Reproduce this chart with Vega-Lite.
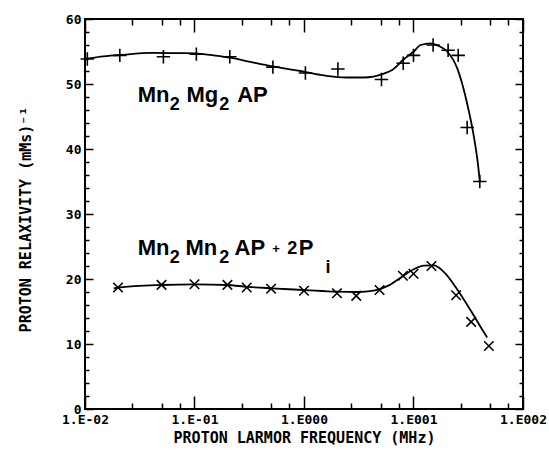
{
  "$schema": "https://vega.github.io/schema/vega-lite/v6.json",
  "width": 438,
  "height": 390,
  "autosize": {"type": "none"},
  "padding": {"left": 85, "top": 19, "right": 26, "bottom": 41},
  "background": "white",
  "config": {
    "view": {"stroke": "black", "strokeWidth": 2},
    "axis": {
      "grid": false,
      "domain": false,
      "ticks": true,
      "tickColor": "black",
      "tickWidth": 1.5,
      "labelFont": "DejaVu Sans Mono",
      "labelFontWeight": "bold",
      "labelFontSize": 13,
      "labelColor": "black",
      "labelOverlap": false,
      "labelFlush": false,
      "titleFont": "DejaVu Sans Mono",
      "titleFontWeight": "bold",
      "titleFontSize": 15,
      "titleColor": "black"
    }
  },
  "datasets": {
    "points": [
      {"f": 0.0105, "r": 53.85, "s": "Mn2Mg2AP"},
      {"f": 0.0208, "r": 54.4, "s": "Mn2Mg2AP"},
      {"f": 0.052, "r": 54.2, "s": "Mn2Mg2AP"},
      {"f": 0.104, "r": 54.6, "s": "Mn2Mg2AP"},
      {"f": 0.21, "r": 54.2, "s": "Mn2Mg2AP"},
      {"f": 0.52, "r": 52.6, "s": "Mn2Mg2AP"},
      {"f": 1.03, "r": 51.7, "s": "Mn2Mg2AP"},
      {"f": 2.04, "r": 52.3, "s": "Mn2Mg2AP"},
      {"f": 5.1, "r": 50.7, "s": "Mn2Mg2AP"},
      {"f": 8.05, "r": 53.2, "s": "Mn2Mg2AP"},
      {"f": 10.0, "r": 54.4, "s": "Mn2Mg2AP"},
      {"f": 15.1, "r": 56.0, "s": "Mn2Mg2AP"},
      {"f": 20.7, "r": 55.2, "s": "Mn2Mg2AP"},
      {"f": 25.6, "r": 54.4, "s": "Mn2Mg2AP"},
      {"f": 30.9, "r": 43.3, "s": "Mn2Mg2AP"},
      {"f": 40.3, "r": 35.0, "s": "Mn2Mg2AP"},
      {"f": 0.02, "r": 18.7, "s": "Mn2Mn2AP+2Pi"},
      {"f": 0.05, "r": 19.1, "s": "Mn2Mn2AP+2Pi"},
      {"f": 0.1, "r": 19.2, "s": "Mn2Mn2AP+2Pi"},
      {"f": 0.2, "r": 19.1, "s": "Mn2Mn2AP+2Pi"},
      {"f": 0.3, "r": 18.7, "s": "Mn2Mn2AP+2Pi"},
      {"f": 0.5, "r": 18.5, "s": "Mn2Mn2AP+2Pi"},
      {"f": 1.0, "r": 18.2, "s": "Mn2Mn2AP+2Pi"},
      {"f": 2.0, "r": 17.8, "s": "Mn2Mn2AP+2Pi"},
      {"f": 3.0, "r": 17.4, "s": "Mn2Mn2AP+2Pi"},
      {"f": 4.9, "r": 18.3, "s": "Mn2Mn2AP+2Pi"},
      {"f": 8.0, "r": 20.5, "s": "Mn2Mn2AP+2Pi"},
      {"f": 10.0, "r": 20.8, "s": "Mn2Mn2AP+2Pi"},
      {"f": 14.6, "r": 22.0, "s": "Mn2Mn2AP+2Pi"},
      {"f": 24.5, "r": 17.5, "s": "Mn2Mn2AP+2Pi"},
      {"f": 33.6, "r": 13.4, "s": "Mn2Mn2AP+2Pi"},
      {"f": 48.8, "r": 9.7, "s": "Mn2Mn2AP+2Pi"}
    ],
    "curves": [
      {"f": 0.0103, "r": 53.85, "s": "Mn2Mg2AP"},
      {"f": 0.0139, "r": 54.2, "s": "Mn2Mg2AP"},
      {"f": 0.0208, "r": 54.46, "s": "Mn2Mg2AP"},
      {"f": 0.0411, "r": 54.8, "s": "Mn2Mg2AP"},
      {"f": 0.0745, "r": 54.75, "s": "Mn2Mg2AP"},
      {"f": 0.102, "r": 54.7, "s": "Mn2Mg2AP"},
      {"f": 0.15, "r": 54.4, "s": "Mn2Mg2AP"},
      {"f": 0.213, "r": 54.05, "s": "Mn2Mg2AP"},
      {"f": 0.324, "r": 53.4, "s": "Mn2Mg2AP"},
      {"f": 0.519, "r": 52.7, "s": "Mn2Mg2AP"},
      {"f": 0.929, "r": 52.0, "s": "Mn2Mg2AP"},
      {"f": 1.416, "r": 51.4, "s": "Mn2Mg2AP"},
      {"f": 2.48, "r": 51.0, "s": "Mn2Mg2AP"},
      {"f": 3.52, "r": 51.0, "s": "Mn2Mg2AP"},
      {"f": 5.35, "r": 51.6, "s": "Mn2Mg2AP"},
      {"f": 6.38, "r": 52.15, "s": "Mn2Mg2AP"},
      {"f": 8.15, "r": 53.8, "s": "Mn2Mg2AP"},
      {"f": 10.06, "r": 55.0, "s": "Mn2Mg2AP"},
      {"f": 11.6, "r": 56.0, "s": "Mn2Mg2AP"},
      {"f": 14.3, "r": 56.25, "s": "Mn2Mg2AP"},
      {"f": 17.0, "r": 55.85, "s": "Mn2Mg2AP"},
      {"f": 20.3, "r": 55.0, "s": "Mn2Mg2AP"},
      {"f": 25.1, "r": 52.4, "s": "Mn2Mg2AP"},
      {"f": 30.9, "r": 47.0, "s": "Mn2Mg2AP"},
      {"f": 35.6, "r": 41.9, "s": "Mn2Mg2AP"},
      {"f": 38.7, "r": 37.8, "s": "Mn2Mg2AP"},
      {"f": 40.3, "r": 35.1, "s": "Mn2Mg2AP"},
      {"f": 0.0183, "r": 18.57, "s": "Mn2Mn2AP+2Pi"},
      {"f": 0.0201, "r": 18.67, "s": "Mn2Mn2AP+2Pi"},
      {"f": 0.05, "r": 19.08, "s": "Mn2Mn2AP+2Pi"},
      {"f": 0.1007, "r": 19.18, "s": "Mn2Mn2AP+2Pi"},
      {"f": 0.199, "r": 19.08, "s": "Mn2Mn2AP+2Pi"},
      {"f": 0.303, "r": 18.8, "s": "Mn2Mn2AP+2Pi"},
      {"f": 0.501, "r": 18.57, "s": "Mn2Mn2AP+2Pi"},
      {"f": 1.02, "r": 18.3, "s": "Mn2Mn2AP+2Pi"},
      {"f": 1.98, "r": 18.05, "s": "Mn2Mn2AP+2Pi"},
      {"f": 3.06, "r": 18.0, "s": "Mn2Mn2AP+2Pi"},
      {"f": 4.34, "r": 18.2, "s": "Mn2Mn2AP+2Pi"},
      {"f": 5.75, "r": 18.9, "s": "Mn2Mn2AP+2Pi"},
      {"f": 7.61, "r": 20.2, "s": "Mn2Mn2AP+2Pi"},
      {"f": 10.06, "r": 21.5, "s": "Mn2Mn2AP+2Pi"},
      {"f": 12.42, "r": 22.05, "s": "Mn2Mn2AP+2Pi"},
      {"f": 15.3, "r": 22.1, "s": "Mn2Mn2AP+2Pi"},
      {"f": 18.9, "r": 21.1, "s": "Mn2Mn2AP+2Pi"},
      {"f": 25.1, "r": 18.4, "s": "Mn2Mn2AP+2Pi"},
      {"f": 33.2, "r": 15.2, "s": "Mn2Mn2AP+2Pi"},
      {"f": 40.9, "r": 12.66, "s": "Mn2Mn2AP+2Pi"},
      {"f": 47.1, "r": 11.0, "s": "Mn2Mn2AP+2Pi"}
    ],
    "labels": [
      {"t": "Mn", "x": 0.03035, "y": 47.28, "role": "main"},
      {"t": "2", "x": 0.05949, "y": 46.0, "role": "sub"},
      {"t": "Mg", "x": 0.08452, "y": 47.28, "role": "main"},
      {"t": "2", "x": 0.1681, "y": 46.0, "role": "sub"},
      {"t": "AP", "x": 0.2455, "y": 47.28, "role": "main"},
      {"t": "Mn", "x": 0.03035, "y": 23.74, "role": "main"},
      {"t": "2", "x": 0.05949, "y": 22.46, "role": "sub"},
      {"t": "Mn", "x": 0.08277, "y": 23.74, "role": "main"},
      {"t": "2", "x": 0.1681, "y": 22.46, "role": "sub"},
      {"t": "AP", "x": 0.2319, "y": 23.74, "role": "main"},
      {"t": "+", "x": 0.5124, "y": 24.05, "role": "op"},
      {"t": "2", "x": 0.7024, "y": 23.85, "role": "sub"},
      {"t": "P", "x": 0.8965, "y": 23.74, "role": "main"},
      {"t": "i", "x": 1.5716, "y": 20.9, "role": "sub"}
    ]
  },
  "resolve": {"axis": {"x": "independent", "y": "independent"}},
  "layer": [
    {
      "data": {"name": "curves"},
      "mark": {"type": "line", "interpolate": "monotone", "color": "black", "strokeWidth": 1.8},
      "encoding": {
        "x": {
          "field": "f", "type": "quantitative",
          "scale": {"type": "log", "domain": [0.01, 100]},
          "axis": {
            "orient": "bottom",
            "title": "PROTON LARMOR FREQUENCY  (MHz)",
            "titlePadding": 4,
            "tickSize": -13,
            "labelPadding": 17,
            "tickDash": {"condition": {"test": "abs(log(datum.value)/LN10 - round(log(datum.value)/LN10)) < 0.01", "value": [20, 0]}, "value": [6, 30]},
            "values": [0.01, 0.027, 0.05, 0.073, 0.1, 0.27, 0.5, 0.73, 1, 2.7, 5, 7.3, 10, 27, 50, 73, 100],
            "labelExpr": "datum.value == 0.01 ? '1.E-02' : datum.value == 0.1 ? '1.E-01' : datum.value == 1 ? '1.E000' : datum.value == 10 ? '1.E001' : datum.value == 100 ? '1.E002' : ''"
          }
        },
        "y": {
          "field": "r", "type": "quantitative",
          "scale": {"domain": [0, 60]},
          "axis": {
            "orient": "left",
            "title": "PROTON RELAXIVITY  (mMs)⁻¹",
            "titleX": -60,
            "titleY": 200,
            "titleBaseline": "middle",
            "titleAlign": "center",
            "titleAngle": 270,
            "tickSize": -8,
            "labelPadding": 12,
            "tickDash": {"condition": {"test": "datum.value % 10 == 0", "value": [20, 0]}, "value": [4, 30]},
            "values": [0, 2, 4, 6, 8, 10, 12, 14, 16, 18, 20, 22, 24, 26, 28, 30, 32, 34, 36, 38, 40, 42, 44, 46, 48, 50, 52, 54, 56, 58, 60],
            "labelExpr": "datum.value % 10 == 0 ? datum.label : ''"
          }
        },
        "detail": {"field": "s"}
      }
    },
    {
      "data": {"name": "points"},
      "transform": [{"filter": "datum.s == 'Mn2Mg2AP'"}],
      "mark": {"type": "point", "shape": "M-1,0L1,0M0,-1L0,1", "filled": false, "color": "black", "strokeWidth": 1.6, "size": 180, "opacity": 1},
      "encoding": {
        "x": {
          "field": "f", "type": "quantitative",
          "scale": {"type": "log", "domain": [0.01, 100]},
          "axis": {
            "orient": "top", "title": null, "labels": false,
            "tickSize": -13,
            "tickDash": {"condition": {"test": "abs(log(datum.value)/LN10 - round(log(datum.value)/LN10)) < 0.01", "value": [20, 0]}, "value": [6, 30]},
            "values": [0.01, 0.027, 0.05, 0.073, 0.1, 0.27, 0.5, 0.73, 1, 2.7, 5, 7.3, 10, 27, 50, 73, 100]
          }
        },
        "y": {
          "field": "r", "type": "quantitative",
          "scale": {"domain": [0, 60]},
          "axis": {
            "orient": "right", "title": null, "labels": false,
            "tickSize": -8,
            "tickDash": {"condition": {"test": "datum.value % 10 == 0", "value": [20, 0]}, "value": [4, 30]},
            "values": [0, 2, 4, 6, 8, 10, 12, 14, 16, 18, 20, 22, 24, 26, 28, 30, 32, 34, 36, 38, 40, 42, 44, 46, 48, 50, 52, 54, 56, 58, 60]
          }
        }
      }
    },
    {
      "data": {"name": "points"},
      "transform": [{"filter": "datum.s != 'Mn2Mg2AP'"}],
      "mark": {"type": "point", "shape": "M-1,-1L1,1M-1,1L1,-1", "filled": false, "color": "black", "strokeWidth": 1.6, "size": 90, "opacity": 1},
      "encoding": {
        "x": {"field": "f", "type": "quantitative", "scale": {"type": "log", "domain": [0.01, 100]}, "axis": null},
        "y": {"field": "r", "type": "quantitative", "scale": {"domain": [0, 60]}, "axis": null}
      }
    },
    {
      "data": {"name": "labels"},
      "transform": [{"filter": "datum.role == 'main'"}],
      "mark": {"type": "text", "align": "left", "baseline": "alphabetic", "font": "Liberation Sans", "fontWeight": "bold", "fontSize": 22, "color": "black"},
      "encoding": {
        "x": {"field": "x", "type": "quantitative", "scale": {"type": "log", "domain": [0.01, 100]}, "axis": null},
        "y": {"field": "y", "type": "quantitative", "scale": {"domain": [0, 60]}, "axis": null},
        "text": {"field": "t"}
      }
    },
    {
      "data": {"name": "labels"},
      "transform": [{"filter": "datum.role == 'sub'"}],
      "mark": {"type": "text", "align": "left", "baseline": "alphabetic", "font": "Liberation Sans", "fontWeight": "bold", "fontSize": 18, "color": "black"},
      "encoding": {
        "x": {"field": "x", "type": "quantitative", "scale": {"type": "log", "domain": [0.01, 100]}, "axis": null},
        "y": {"field": "y", "type": "quantitative", "scale": {"domain": [0, 60]}, "axis": null},
        "text": {"field": "t"}
      }
    },
    {
      "data": {"name": "labels"},
      "transform": [{"filter": "datum.role == 'op'"}],
      "mark": {"type": "text", "align": "left", "baseline": "alphabetic", "font": "Liberation Sans", "fontWeight": "bold", "fontSize": 13, "color": "black"},
      "encoding": {
        "x": {"field": "x", "type": "quantitative", "scale": {"type": "log", "domain": [0.01, 100]}, "axis": null},
        "y": {"field": "y", "type": "quantitative", "scale": {"domain": [0, 60]}, "axis": null},
        "text": {"field": "t"}
      }
    }
  ]
}
